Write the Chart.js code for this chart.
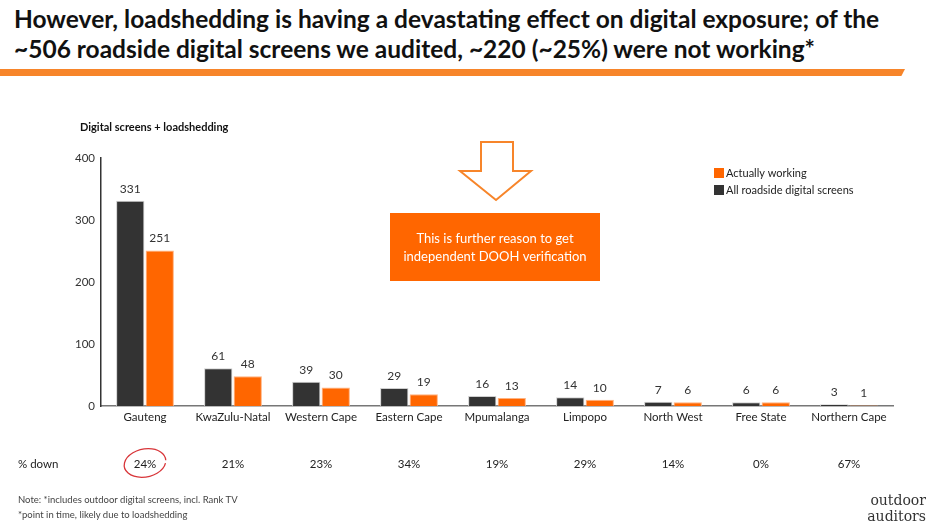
<!DOCTYPE html>
<html>
<head>
<meta charset="utf-8">
<script src="https://cdn.jsdelivr.net/npm/chart.js@4.4.0/dist/chart.umd.min.js"></script>
<style>
  body { margin: 0; background: #fff; width: 936px; height: 526px; overflow: hidden; position: relative; font-family: Lato, "Open Sans", sans-serif; }
  #title { position: absolute; left: 14px; top: 4px; font-weight: bold; font-size: 24.5px; line-height: 30px; color: #111; letter-spacing: 0; white-space: nowrap; }
  #rule { position: absolute; left: 0; top: 69px; width: 905px; height: 7px; background: #f7852a; clip-path: polygon(0 0, 100% 0, 99.6% 100%, 0 100%); }
  #wrap { position: absolute; left: 0; top: 0; width: 936px; height: 526px; }
  .note { position: absolute; left: 18px; font-size: 9.5px; color: #444; }
  .logo { position: absolute; right: 10px; font-family: "DejaVu Serif", serif; font-size: 14px; color: #333; text-align: right; line-height: 16px; }
</style>
</head>
<body>
<div id="title">However, loadshedding is having a devastating effect on digital exposure; of the<br>~506 roadside digital screens we audited, ~220 (~25%) were not working*</div>
<div id="rule"></div>
<div id="wrap"><canvas id="chartCanvas" width="936" height="526"></canvas></div>
<div class="note" style="top:494px">Note: *includes outdoor digital screens, incl. Rank TV</div>
<div class="note" style="top:509px">*point in time, likely due to loadshedding</div>
<div class="logo" style="top:492px">outdoor<br>auditors</div>
<script>
(function() {
    // Data
    const provinces = ['Gauteng', 'KwaZulu-Natal', 'Western Cape', 'Eastern Cape', 'Mpumalanga', 'Limpopo', 'North West', 'Free State', 'Northern Cape'];
    const allScreens = [331, 61, 39, 29, 16, 14, 7, 6, 3];
    const actuallyWorking = [251, 48, 30, 19, 13, 10, 6, 6, 1];
    const pctDown = ['24%', '21%', '23%', '34%', '19%', '29%', '14%', '0%', '67%'];
    const yTicks = [0, 100, 200, 300, 400];

    const DARK = '#333333';
    const ORANGE = '#ff6600';
    const FONT = 'Lato, "Open Sans", sans-serif';

    // Everything that is not a bar: value labels, legend, arrow + box, % down row
    const extras = {
        id: 'extras',
        afterDatasetsDraw(chart) {
            const ctx = chart.ctx;
            const x = chart.scales.x;
            ctx.save();

            // values above the bars
            ctx.font = '12px ' + FONT;
            ctx.fillStyle = '#333';
            ctx.textAlign = 'center';
            ctx.textBaseline = 'bottom';
            chart.data.datasets.forEach((ds, di) => {
                chart.getDatasetMeta(di).data.forEach((bar, i) => {
                    ctx.fillText(ds.data[i], bar.x, bar.y - 6);
                });
            });

            // chart subtitle
            ctx.font = 'bold 11px ' + FONT;
            ctx.textAlign = 'left';
            ctx.textBaseline = 'middle';
            ctx.fillStyle = '#111';
            ctx.fillText('Digital screens + loadshedding', 80, 127);

            // legend (orange first, like the original)
            ctx.font = '11px ' + FONT;
            const legend = [[ORANGE, 'Actually working'], [DARK, 'All roadside digital screens']];
            legend.forEach((item, i) => {
                const ly = 173 + i * 17;
                ctx.fillStyle = item[0];
                ctx.fillRect(714, ly - 5, 10, 10);
                ctx.fillStyle = '#222';
                ctx.fillText(item[1], 726, ly);
            });

            // hollow arrow
            ctx.strokeStyle = '#f7852a';
            ctx.lineWidth = 2;
            ctx.beginPath();
            ctx.moveTo(481, 142);
            ctx.lineTo(513, 142);
            ctx.lineTo(513, 171);
            ctx.lineTo(531, 171);
            ctx.lineTo(496, 200);
            ctx.lineTo(460, 171);
            ctx.lineTo(481, 171);
            ctx.closePath();
            ctx.stroke();

            // callout box
            ctx.fillStyle = ORANGE;
            ctx.fillRect(390, 213, 210, 68);
            ctx.fillStyle = '#fff';
            ctx.font = '13px ' + FONT;
            ctx.textAlign = 'center';
            ctx.fillText('This is further reason to get', 495, 239);
            ctx.fillText('independent DOOH verification', 495, 257);

            // % down row
            ctx.fillStyle = '#222';
            ctx.font = '11.5px ' + FONT;
            ctx.textAlign = 'left';
            ctx.fillText('% down', 18, 464);
            ctx.textAlign = 'center';
            pctDown.forEach((p, i) => {
                ctx.fillText(p, x.getPixelForValue(i), 464);
            });

            // hand drawn circle round the first one
            const cx = x.getPixelForValue(0);
            ctx.strokeStyle = '#d8363a';
            ctx.lineWidth = 1.3;
            ctx.beginPath();
            ctx.ellipse(cx, 463, 21, 14, -0.2, 0.3, Math.PI * 2 + 0.1);
            ctx.stroke();

            ctx.restore();
        }
    };

    const chart = new Chart(document.getElementById('chartCanvas'), {
        type: 'bar',
        data: {
            labels: provinces,
            datasets: [{
                label: 'All roadside digital screens',
                data: allScreens,
                backgroundColor: DARK,
                borderColor: '#cfcfcf',
                borderWidth: 1,
                barPercentage: 0.96,
                categoryPercentage: 0.67
            }, {
                label: 'Actually working',
                data: actuallyWorking,
                backgroundColor: ORANGE,
                borderColor: '#ffb27f',
                borderWidth: 1,
                barPercentage: 0.96,
                categoryPercentage: 0.67
            }]
        },
        options: {
            responsive: false,
            animation: false,
            layout: { padding: { left: 71, right: 43, top: 158, bottom: 100 } },
            plugins: { legend: { display: false }, tooltip: { enabled: false } },
            scales: {
                x: {
                    grid: { display: false, drawTicks: false },
                    border: { color: '#777', width: 1.5 },
                    ticks: { color: '#222', font: { family: FONT, size: 11.5 }, padding: 4, maxRotation: 0 },
                    afterFit: s => { s.height = 20; }
                },
                y: {
                    min: 0, max: 400,
                    afterBuildTicks: s => { s.ticks = yTicks.map(v => ({ value: v })); },
                    grid: { display: false, drawOnChartArea: false, drawTicks: true, tickLength: 4, color: '#333' },
                    border: { color: '#333', width: 1.5 },
                    ticks: { color: '#333', font: { family: FONT, size: 11.5 }, padding: 2 },
                    afterFit: s => { s.width = 30; }
                }
            }
        },
        plugins: [extras]
    });
}) ();
</script>
</body>
</html>
